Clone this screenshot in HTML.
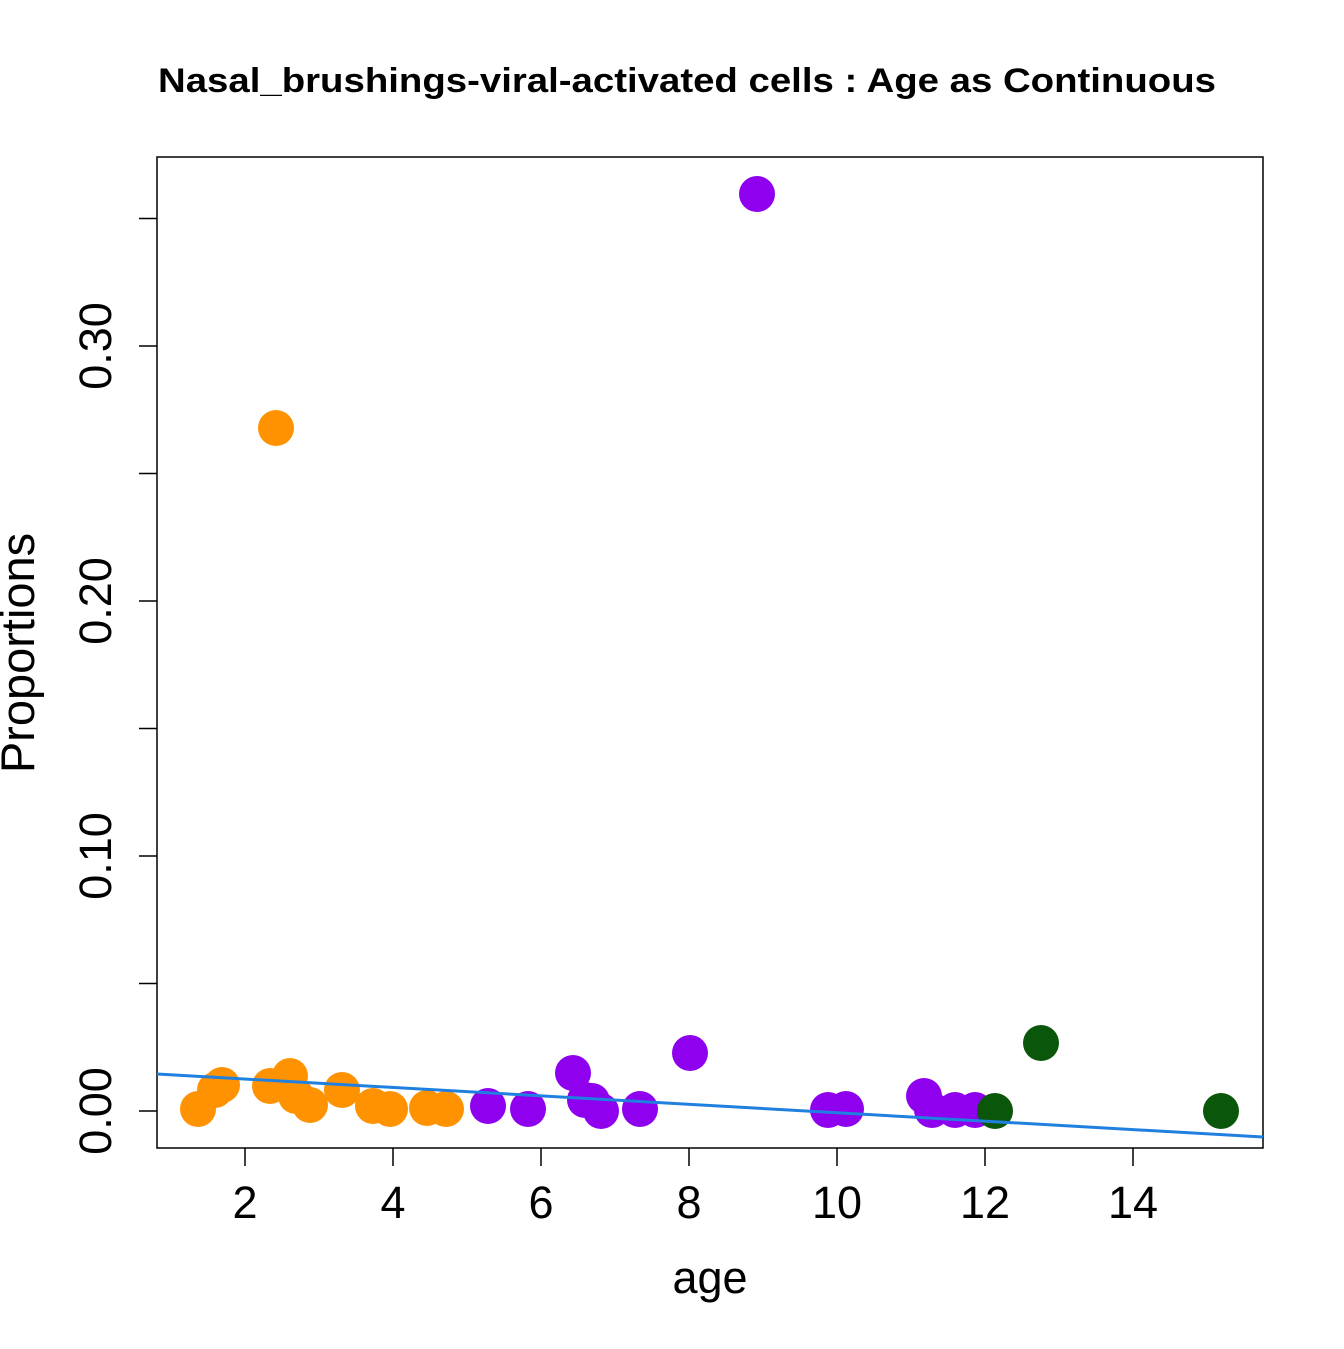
<!DOCTYPE html>
<html><head><meta charset="utf-8"><style>body{margin:0;background:#fff}</style></head>
<body>
<svg width="1344" height="1344" xmlns="http://www.w3.org/2000/svg" font-family="Liberation Sans, Arial, sans-serif">
<rect width="1344" height="1344" fill="#fff"/>
<text x="158" y="92" font-size="34" font-weight="bold" textLength="1058" lengthAdjust="spacingAndGlyphs">Nasal_brushings-viral-activated cells : Age as Continuous</text>
<g stroke="#000" stroke-width="1.5" fill="none">
<rect x="157" y="157" width="1106" height="991"/>
<path d="M245 1148v18M393 1148v18M541 1148v18M689 1148v18M837 1148v18M985 1148v18M1133 1148v18"/>
<path d="M157 1111h-18M157 983.5h-18M157 856h-18M157 728.5h-18M157 601h-18M157 473.5h-18M157 346h-18M157 218.5h-18"/>
</g>
<g font-size="45" text-anchor="middle">
<text x="245" y="1218">2</text><text x="393" y="1218">4</text><text x="541" y="1218">6</text><text x="689" y="1218">8</text><text x="837" y="1218">10</text><text x="985" y="1218">12</text><text x="1133" y="1218">14</text>
<text x="710" y="1293">age</text>
<text transform="translate(111,1111) rotate(-90)">0.00</text>
<text transform="translate(111,856) rotate(-90)">0.10</text>
<text transform="translate(111,601) rotate(-90)">0.20</text>
<text transform="translate(111,346) rotate(-90)">0.30</text>
<text transform="translate(34,653) rotate(-90)" font-size="47">Proportions</text>
</g>
<g fill="#FF9200">
<circle cx="198" cy="1109" r="18"/><circle cx="215" cy="1090" r="18"/><circle cx="222" cy="1085" r="18"/><circle cx="270" cy="1086" r="18"/><circle cx="290" cy="1076" r="18"/><circle cx="296" cy="1096" r="18"/><circle cx="310" cy="1105" r="18"/><circle cx="342" cy="1090" r="18"/><circle cx="373" cy="1106" r="18"/><circle cx="390" cy="1109" r="18"/><circle cx="427" cy="1108" r="18"/><circle cx="446" cy="1109" r="18"/><circle cx="276" cy="428" r="18"/>
</g>
<g fill="#8E00EE">
<circle cx="757" cy="194" r="18"/><circle cx="488" cy="1106" r="18"/><circle cx="528" cy="1109" r="18"/><circle cx="573" cy="1073" r="18"/><circle cx="585" cy="1100" r="18"/><circle cx="592" cy="1101" r="18"/><circle cx="601" cy="1111" r="18"/><circle cx="640" cy="1109" r="18"/><circle cx="690" cy="1053" r="18"/><circle cx="828" cy="1110" r="18"/><circle cx="846" cy="1109" r="18"/><circle cx="924" cy="1096" r="18"/><circle cx="932" cy="1110" r="18"/><circle cx="955" cy="1110" r="18"/><circle cx="975" cy="1110" r="18"/>
</g>
<g fill="#0A560A">
<circle cx="995" cy="1111" r="18"/><circle cx="1041" cy="1043" r="18"/><circle cx="1221" cy="1111" r="18"/>
</g>
<line x1="157" y1="1074" x2="1263" y2="1137" stroke="#1F80E0" stroke-width="3"/>
</svg>
</body></html>
